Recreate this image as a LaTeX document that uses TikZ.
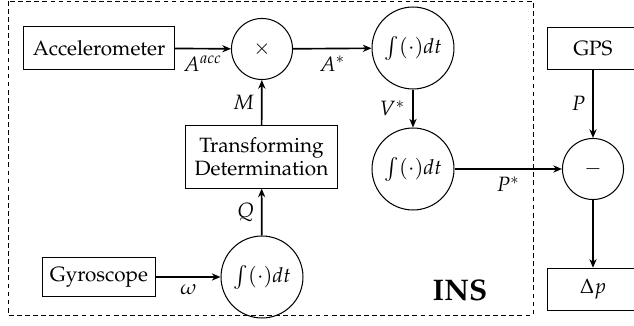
\documentclass[tikz,border=0pt]{standalone}
\usepackage[T1]{fontenc}
\usepackage{mathpazo}
\usetikzlibrary{arrows.meta}
\begin{document}
\begin{tikzpicture}[x=0.4831pt,y=-0.4831pt,
  blockbox/.style={draw,line width=0.5pt,inner sep=3pt,minimum height=20.5pt},
  opcircle/.style={draw,circle,line width=0.5pt,inner sep=0pt,minimum size=29.5pt},
  intcircle/.style={draw,circle,line width=0.5pt,inner sep=0pt,minimum size=39.6pt},
  flow/.style={line width=0.8pt,-{Stealth[length=4.2pt,width=3.5pt]}},
  lbl/.style={font=\normalsize}]
\useasboundingbox (0,0) rectangle (634,326);
% INS boundary
\draw[line width=0.4pt,dash pattern=on 2.3pt off 1.6pt] (8,1) rectangle (533,315);
\node[font=\Large\bfseries] (ins) at (460,290) {INS};
% sensors and blocks
\node[blockbox,minimum width=72.5pt] (acc) at (99,48) {Accelerometer};
\node[blockbox,minimum width=55pt,minimum height=19.3pt] (gyro) at (99,277) {Gyroscope};
\node[blockbox,minimum width=73pt,minimum height=30pt,align=center] (tdet) at (261.5,157) {Transforming\\[-1pt]Determination};
\node[blockbox,minimum width=43.5pt,minimum height=20pt] (gps) at (593,48.5) {GPS};
\node[blockbox,minimum width=43.5pt] (dp) at (593,289.5) {$\Delta p$};
% operators
\node[opcircle] (mul) at (262,49) {$\times$};
\node[intcircle] (intq) at (262,277) {$\int(\cdot)dt$};
\node[intcircle] (intv) at (413,48) {$\int(\cdot)dt$};
\node[intcircle] (intp) at (413,169) {$\int(\cdot)dt$};
\node[opcircle] (sub) at (593,169) {$-$};
% signal flow
\draw[flow] (acc) -- node[below,lbl] {$A^{acc}$} (mul);
\draw[flow] (tdet) -- node[left,lbl] {$M$} (mul);
\draw[flow] (intq) -- node[left,lbl] {$Q$} (tdet);
\draw[flow] (gyro) -- node[below,lbl] {$\omega$} (intq);
\draw[flow] (mul) -- node[below,lbl] {$A^{*}$} (intv);
\draw[flow] (intv) -- node[left,lbl] {$V^{*}$} (intp);
\draw[flow] (intp) -- node[below,lbl] {$P^{*}$} (sub);
\draw[flow] (gps) -- node[left,lbl] {$P$} (sub);
\draw[flow] (sub) -- (dp);
\end{tikzpicture}
\end{document}
